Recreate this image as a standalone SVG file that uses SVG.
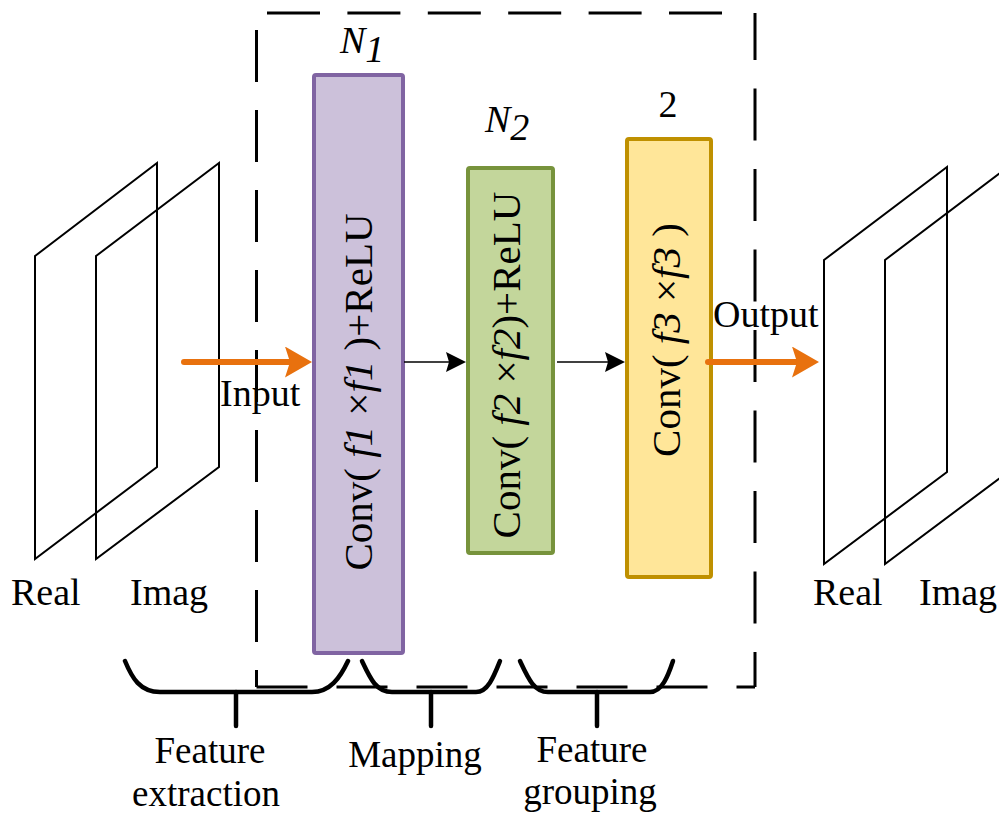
<svg xmlns="http://www.w3.org/2000/svg" width="999" height="819" viewBox="0 0 999 819">
<style>
text{font-family:"Liberation Serif","Times New Roman",serif;fill:#000}
.lbl{font-size:38px}
.stage{font-size:37px}
.box{font-size:41px}
.it{font-style:italic}
.plane{fill:none;stroke:#000;stroke-width:2;stroke-linejoin:miter}
.dash{fill:none;stroke:#000;stroke-width:3}
.brace{fill:none;stroke:#000;stroke-width:4.5;stroke-linecap:round;stroke-linejoin:round}
.orange{fill:none;stroke:#E8710E;stroke-width:6;stroke-linecap:round}
.thin{fill:none;stroke:#000;stroke-width:1.5}
</style>
<defs>
<marker id="oh" markerUnits="userSpaceOnUse" markerWidth="28" markerHeight="32" refX="15" refY="15.5" orient="auto">
<path d="M0,0 L27,15.5 L0,31 L5,15.5 z" fill="#E8710E"/>
</marker>
<marker id="bh" markerUnits="userSpaceOnUse" markerWidth="21" markerHeight="21" refX="14" refY="10" orient="auto">
<path d="M0,0 L20,10 L0,20 L3,10 z" fill="#000"/>
</marker>
</defs>

<g id="dashed-frame">
<line class="dash" x1="267" y1="13" x2="722" y2="13" stroke-dasharray="53 27.4"/>
<line class="dash" x1="755" y1="13" x2="755" y2="687" stroke-dasharray="52 28.5" stroke-dashoffset="5"/>
<line class="dash" x1="256.5" y1="30" x2="256.5" y2="687" stroke-dasharray="52 28"/>
<line class="dash" x1="256.5" y1="687" x2="755" y2="687" stroke-dasharray="51 29"/>
</g>

<g id="input-planes">
<polygon class="plane" points="35,256 157,163 157,467 35,559"/>
<polygon class="plane" points="96,256 219,163 219,467 96,559"/>
<text class="lbl" x="11" y="605">Real</text>
<text class="lbl" x="130" y="605">Imag</text>
</g>

<g id="output-planes">
<polygon class="plane" points="824,260 947,167 947,472 824,564"/>
<polygon class="plane" points="885,260 1008,167 1008,472 885,564"/>
<text class="lbl" x="813" y="605">Real</text>
<text class="lbl" x="919" y="605">Imag</text>
</g>

<g id="node-conv1">
<rect x="314" y="75" width="89" height="578" rx="2" fill="#CCC1DA" stroke="#8064A2" stroke-width="4"/>
<text class="box" text-anchor="middle" transform="translate(372,392) rotate(-90)">Conv( <tspan class="it">f1</tspan> ×<tspan class="it">f1</tspan> )+ReLU</text>
<text class="lbl it" x="340" y="53">N<tspan dy="9">1</tspan></text>
</g>

<g id="node-conv2">
<rect x="468" y="168" width="85" height="385" rx="2" fill="#C3D69B" stroke="#77933C" stroke-width="4"/>
<text class="box" text-anchor="middle" transform="translate(520,365) rotate(-90)">Conv( <tspan class="it">f2</tspan> ×<tspan class="it">f2</tspan>)+ReLU</text>
<text class="lbl it" x="485" y="132">N<tspan dy="8">2</tspan></text>
</g>

<g id="node-conv3">
<rect x="627" y="139" width="84" height="438" rx="2" fill="#FFE699" stroke="#BF9000" stroke-width="4"/>
<text class="box" text-anchor="middle" transform="translate(680,340) rotate(-90)">Conv( <tspan class="it">f3</tspan> ×<tspan class="it">f3</tspan> )</text>
<text class="lbl" x="668" y="117" text-anchor="middle">2</text>
</g>

<g id="connectors">
<line class="orange" x1="184" y1="362" x2="300" y2="362" marker-end="url(#oh)"/>
<line class="orange" x1="708" y1="362" x2="807" y2="362" marker-end="url(#oh)"/>
<line class="thin" x1="404" y1="362" x2="460" y2="362" marker-end="url(#bh)"/>
<line class="thin" x1="557" y1="362" x2="619" y2="362" marker-end="url(#bh)"/>
<text class="lbl" x="220" y="406">Input</text>
<text class="lbl" x="713" y="327">Output</text>
</g>

<g id="stage-braces">
<path class="brace" d="M125,661 C132,678 140,692 160,692 L312,692 C330,692 340,678 348,661"/>
<line class="brace" x1="236" y1="692" x2="236" y2="726"/>
<path class="brace" d="M362,661 C370,678 376,692 392,692 L476,692 C488,692 494,676 500,661"/>
<line class="brace" x1="431" y1="692" x2="431" y2="726"/>
<path class="brace" d="M520,661 C528,678 534,692 548,692 L650,692 C662,692 668,676 673,661"/>
<line class="brace" x1="597" y1="692" x2="597" y2="726"/>
</g>

<g id="stage-labels">
<text class="stage" x="210" y="763" text-anchor="middle">Feature</text>
<text class="stage" x="206" y="806" text-anchor="middle">extraction</text>
<text class="stage" x="415" y="767" text-anchor="middle">Mapping</text>
<text class="stage" x="592" y="762" text-anchor="middle">Feature</text>
<text class="stage" x="590" y="804" text-anchor="middle">grouping</text>
</g>
</svg>
